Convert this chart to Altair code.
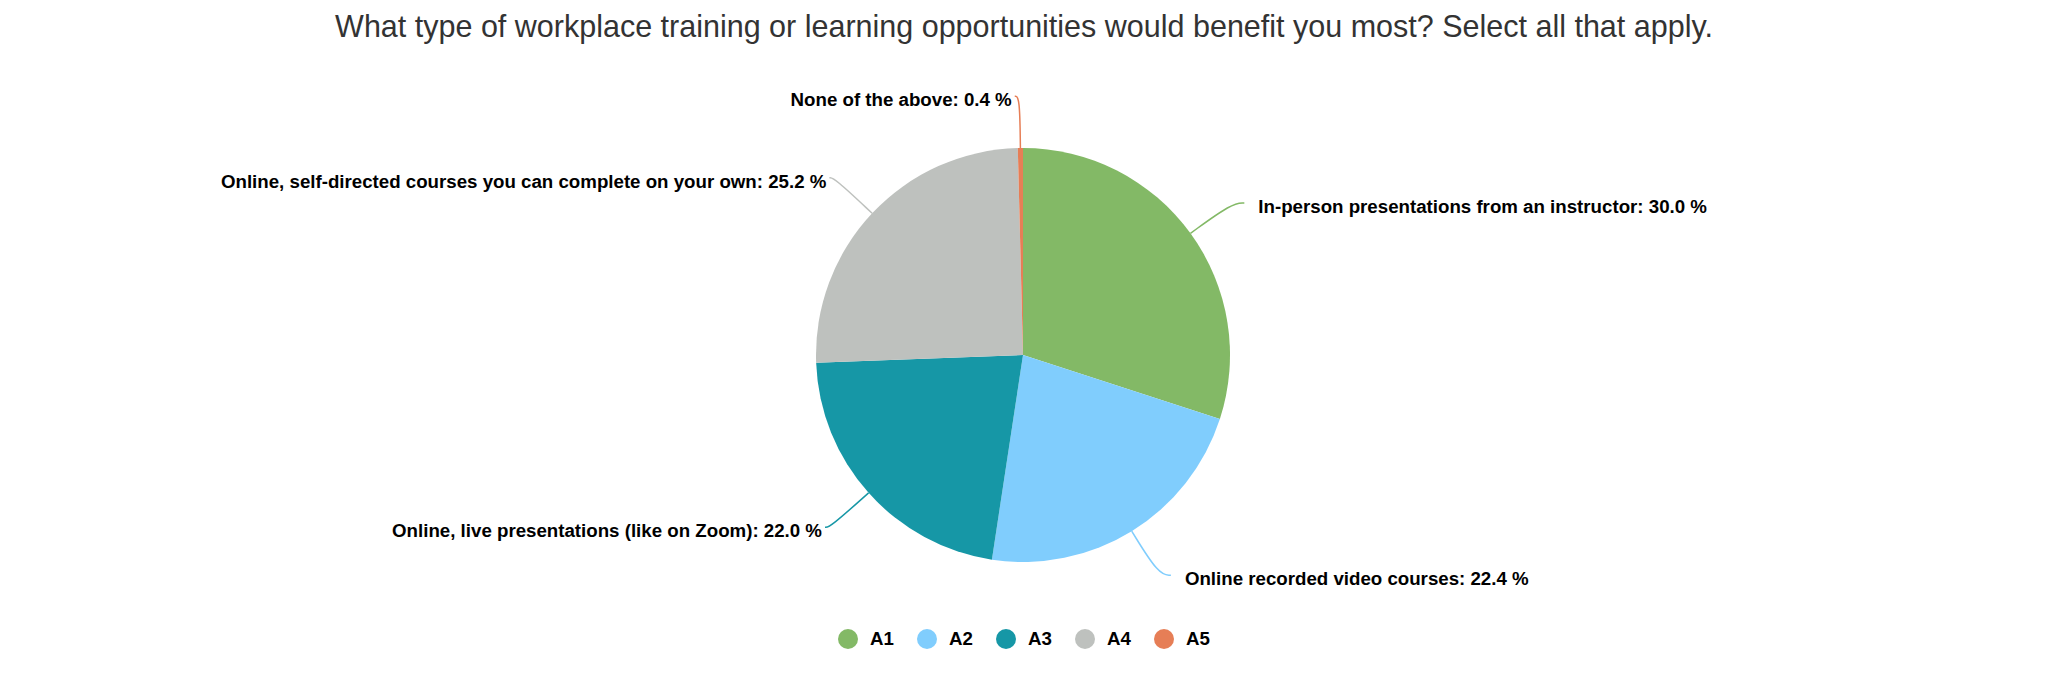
import math

import altair as alt
import pandas as pd

# Survey answers, in drawing order (clockwise from 12 o'clock)
codes = ["A1", "A2", "A3", "A4", "A5"]
answers = [
    "In-person presentations from an instructor",
    "Online recorded video courses",
    "Online, live presentations (like on Zoom)",
    "Online, self-directed courses you can complete on your own",
    "None of the above",
]
shares = [30.0, 22.4, 22.0, 25.2, 0.4]
colors = ["#83b966", "#80cdfd", "#1697a6", "#bec1be", "#e67e56"]

TITLE = ("What type of workplace training or learning opportunities "
         "would benefit you most? Select all that apply.")

# Layout (pixels)
W, H, TOP = 2048, 623, 60
CX, CY, R = 1023, 295, 207
LEADER_K = 1.25      # leader elbow radius as a multiple of R
HOOK = {1: 12, -1: 5}
GAP = {1: 14, -1: 3}
FONT = "Liberation Sans"
LABEL_SIZE = 18.7

total = sum(shares)
slices, leaders = [], []
start = 0.0
for i, (code, answer, share, col) in enumerate(zip(codes, answers, shares, colors)):
    mid = 2 * math.pi * (start + share / 2) / total
    start += share
    s, c = math.sin(mid), math.cos(mid)
    side = 1 if s >= 0 else -1
    x0, y0 = CX + R * s, CY - R * c
    x1, y1 = CX + LEADER_K * R * s, CY - LEADER_K * R * c
    x2 = x1 + side * HOOK[side]
    slices.append({
        "idx": i, "code": code, "share": share, "hex": col,
        "label": f"{answer}: {share:.1f} %",
        "lx": x2 + side * GAP[side], "ly": y1 + 4,
        "side": "right" if side > 0 else "left",
    })
    for j, (px, py) in enumerate([(x0, y0), (x1, y1), (x2, y1)]):
        leaders.append({"code": code, "hex": col, "pt": j, "px": px, "py": py})

df = pd.DataFrame(slices)
lines_df = pd.DataFrame(leaders)

pie = alt.Chart(df).mark_arc(outerRadius=R).encode(
    theta=alt.Theta("share:Q", stack=True),
    color=alt.Color(
        "code:N",
        scale=alt.Scale(domain=codes, range=colors),
        legend=alt.Legend(
            title=None,
            orient="none",
            legendX=838,
            legendY=569,
            direction="horizontal",
            symbolType="circle",
            symbolSize=400,
            symbolStrokeWidth=0,
            symbolOpacity=1,
            labelFont=FONT,
            labelFontSize=LABEL_SIZE,
            labelFontWeight="bold",
            labelColor="#000000",
            labelOffset=12,
            columnPadding=23,
        ),
    ),
    order=alt.Order("idx:Q"),
    x=alt.value(CX),
    y=alt.value(CY),
)

leader_lines = alt.Chart(lines_df).mark_line(
    interpolate="basis", strokeWidth=1.5
).encode(
    x=alt.X("px:Q", scale=None),
    y=alt.Y("py:Q", scale=None),
    detail="code:N",
    order="pt:Q",
    stroke=alt.Stroke("hex:N", scale=None),
)

def labels(side, align):
    return alt.Chart(df).transform_filter(
        alt.datum.side == side
    ).mark_text(
        align=align, baseline="middle", font=FONT, fontSize=LABEL_SIZE,
        fontWeight="bold", color="#000000",
    ).encode(
        x=alt.X("lx:Q", scale=None),
        y=alt.Y("ly:Q", scale=None),
        text="label:N",
    )

chart = alt.layer(
    pie, leader_lines, labels("right", "left"), labels("left", "right")
).properties(
    width=W,
    height=H,
    title=alt.TitleParams(
        TITLE, font=FONT, fontSize=30.5, fontWeight="normal", color="#333333",
        anchor="middle", offset=-7, baseline="alphabetic",
    ),
    autosize=alt.AutoSizeParams(type="none"),
    padding={"top": TOP, "left": 0, "right": 0, "bottom": 0},
).configure_view(stroke=None)

chart.save("out.html", embed_options={"renderer": "svg", "actions": False})
